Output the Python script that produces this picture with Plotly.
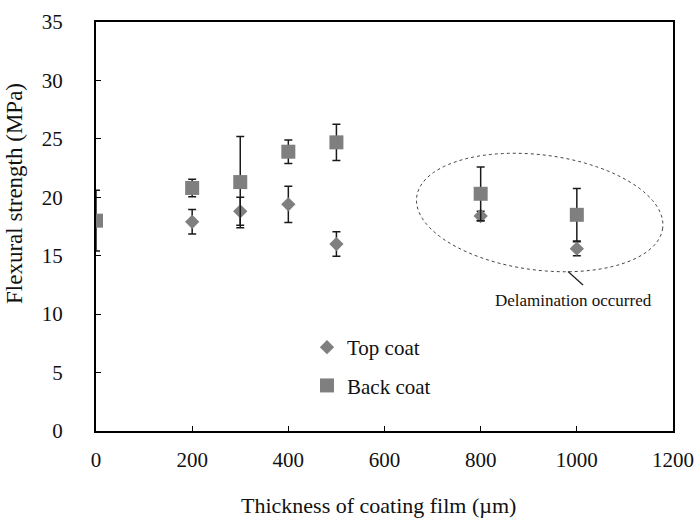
import numpy as np
import plotly.graph_objects as go

# ---- data ----
thickness_top = [200, 300, 400, 500, 800, 1000]
top_mean = [17.9, 18.8, 19.4, 16.0, 18.4, 15.6]
top_err = [1.05, 1.2, 1.55, 1.05, 0.4, 0.6]

thickness_back = [0, 200, 300, 400, 500, 800, 1000]
back_mean = [18.0, 20.8, 21.3, 23.9, 24.7, 20.3, 18.5]
back_err = [2.6, 0.75, 3.9, 1.0, 1.55, 2.3, 2.25]

x_ticks = [0, 200, 400, 600, 800, 1000, 1200]
y_ticks = [0, 5, 10, 15, 20, 25, 30, 35]

# ---- layout geometry ----
W, H = 700, 518
L, R, T, B = 96, 27, 22, 87
XR = (0, 1200)
YR = (0, 35)
pw, ph = W - L - R, H - T - B


def px2data(px, py):
    return (XR[0] + (px - L) / pw * (XR[1] - XR[0]),
            YR[0] + (H - B - py) / ph * (YR[1] - YR[0]))


FONT = "Liberation Serif"
GRAY = "#7F7F7F"

fig = go.Figure()
fig.add_trace(go.Scatter(
    x=thickness_top, y=top_mean, mode="markers", name="Top coat",
    legendgroup="a",
    marker=dict(symbol="diamond", size=11, color=GRAY),
    error_y=dict(type="data", array=top_err, visible=True, color="#1a1a1a",
                 thickness=1.5, width=4),
))
fig.add_trace(go.Scatter(
    x=thickness_back, y=back_mean, mode="markers", name="Back coat",
    legendgroup="b",
    marker=dict(symbol="square", size=14, color=GRAY),
    error_y=dict(type="data", array=back_err, visible=True, color="#1a1a1a",
                 thickness=1.5, width=4),
))

# dotted ellipse (decoration) in pixel space -> data
cx, cy, a, b, th = 539.7, 212.5, 124.0, 57.6, np.deg2rad(7.25)
phi = np.linspace(0, 2 * np.pi, 121)
ex = cx + a * np.cos(phi) * np.cos(th) - b * np.sin(phi) * np.sin(th)
ey = cy + a * np.cos(phi) * np.sin(th) + b * np.sin(phi) * np.cos(th)
pts = [px2data(u, v) for u, v in zip(ex, ey)]
path = "M " + " L ".join(f"{p[0]:.3f},{p[1]:.3f}" for p in pts) + " Z"
fig.add_shape(type="path", path=path, xref="x", yref="y",
              line=dict(color="#444444", width=1, dash="dot"))

x0, y0 = px2data(568, 271.5)
x1, y1 = px2data(583, 285)
fig.add_shape(type="line", x0=x0, y0=y0, x1=x1, y1=y1, xref="x", yref="y",
              line=dict(color="#222222", width=1.3))

tx, ty = px2data(573, 300)
fig.add_annotation(x=tx, y=ty, xref="x", yref="y", text="Delamination occurred",
                   showarrow=False, xanchor="center", yanchor="middle",
                   font=dict(family=FONT, size=17, color="#111"))

# axis titles as annotations
fig.add_annotation(x=(378.5 - L) / pw, y=(H - B - 506) / ph, xref="paper", yref="paper",
                   text="Thickness of coating film (\u00b5m)", showarrow=False,
                   xanchor="center", yanchor="middle",
                   font=dict(family=FONT, size=22, color="#111"))
fig.add_annotation(x=(14 - L) / pw, y=(H - B - 194) / ph, xref="paper", yref="paper",
                   text="Flexural strength (MPa)", showarrow=False, textangle=-90,
                   xanchor="center", yanchor="middle",
                   font=dict(family=FONT, size=23, color="#111"))

axis_common = dict(showgrid=False, zeroline=False, showline=True, linecolor="black",
                   linewidth=2, mirror=True, ticks="inside", ticklen=5, tickwidth=1.2,
                   tickcolor="black", tickfont=dict(family=FONT, size=21, color="#111"))

fig.update_xaxes(range=list(XR), tickvals=x_ticks, ticklabelstandoff=9, **axis_common)
fig.update_yaxes(range=list(YR), tickvals=y_ticks, ticklabelstandoff=27, **axis_common)

fig.update_layout(
    width=W, height=H,
    margin=dict(l=L, r=R, t=T, b=B, autoexpand=False),
    paper_bgcolor="white", plot_bgcolor="white",
    showlegend=True,
    legend=dict(x=(307 - L) / pw, y=(H - B - 327) / ph, xanchor="left", yanchor="top",
                bgcolor="rgba(0,0,0,0)", tracegroupgap=8, traceorder="grouped",
                font=dict(family=FONT, size=21, color="#111")),
)

fig.write_html("out.html", post_script="document.body.style.margin='0';",
               config={"displayModeBar": False})
